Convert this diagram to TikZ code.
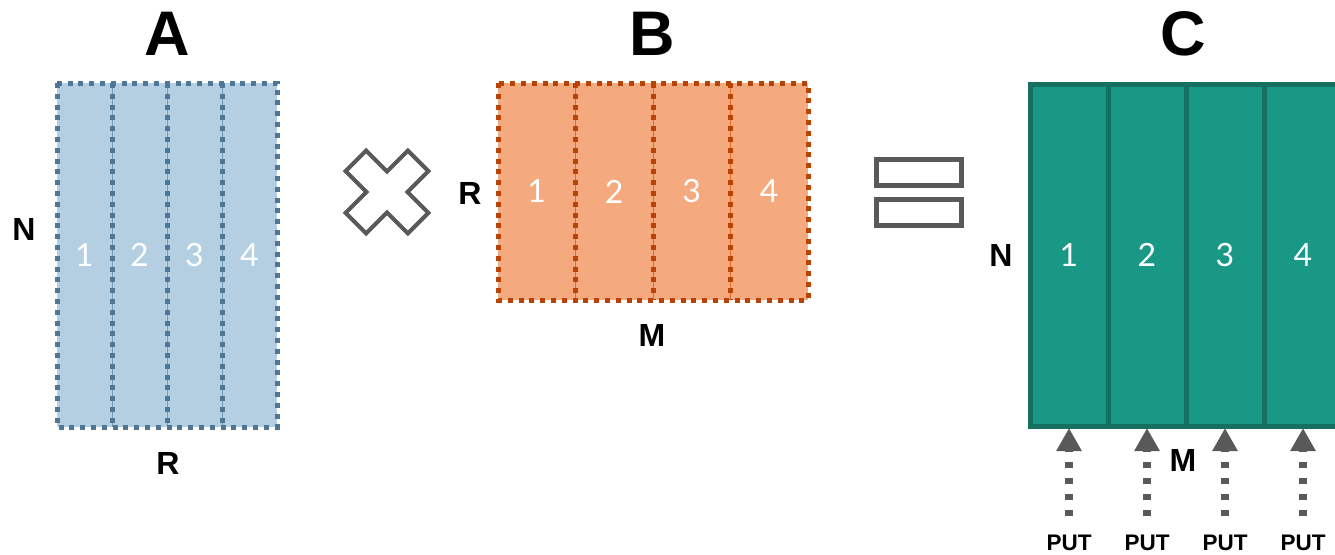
\documentclass[tikz,border=0pt]{standalone}
\usepackage{fontspec}
\setmainfont{Liberation Sans}
\newfontfamily\digitfont{Lato}
\usetikzlibrary{arrows.meta}

\definecolor{afill}{HTML}{B4CFE2}
\definecolor{aline}{HTML}{4E7696}
\definecolor{bfill}{HTML}{F4A97E}
\definecolor{bline}{HTML}{B84305}
\definecolor{bthin}{HTML}{E4692A}
\definecolor{cfill}{HTML}{1A9886}
\definecolor{cline}{HTML}{157060}
\definecolor{opgray}{HTML}{595959}

\begin{document}
\begin{tikzpicture}[x=1pt,y=-1pt,
  cell/.style={inner sep=0pt, outer sep=0pt, text=white,
    font=\digitfont\fontsize{32}{32}\selectfont},
  cellA/.style={cell, fill=afill, minimum width=55pt, minimum height=344pt},
  cellB/.style={cell, fill=bfill, minimum width=77.5pt, minimum height=217pt},
  cellC/.style={cell, fill=cfill, draw=cline, line width=5pt,
    minimum width=78pt, minimum height=342pt},
  dotA/.style={draw=aline, line width=5pt, dash pattern=on 5pt off 5.8pt},
  dotB/.style={draw=bline, line width=5pt, dash pattern=on 5pt off 5.8pt},
  title/.style={font=\bfseries\fontsize{63}{63}\selectfont, anchor=base, inner sep=0pt},
  dimlabel/.style={font=\bfseries\fontsize{32}{32}\selectfont, anchor=base, inner sep=0pt},
  putlabel/.style={font=\bfseries\fontsize{22.5}{22.5}\selectfont, anchor=base, inner sep=0pt},
  putarrow/.style={draw=opgray, line width=8pt, dash pattern=on 6pt off 10pt,
    -{Triangle[width=24pt,length=23pt,fill=opgray]}},
  opsign/.style={draw=opgray, line width=4pt, line join=miter},
]
\useasboundingbox (0,0) rectangle (1335,554);

% ---- matrix A ----
\node[cellA] (a1) at (84.5,255) {1};
\node[cellA] (a2) at (139.5,255) {2};
\node[cellA] (a3) at (194.5,255) {3};
\node[cellA] (a4) at (249.5,255) {4};
\foreach \i in {1,2,3}
  \draw[aline, line width=1pt, opacity=0.6] (a\i.north east) -- (a\i.south east);
\draw[dotA] (a1.north west) rectangle (a4.south east);
\foreach \i in {1,2,3}
  \draw[dotA] (a\i.north east) -- (a\i.south east);
\node[title] (tA) at (167,55) {A};
\node[dimlabel] (nA) at (24,240) {N};
\node[dimlabel] (rA) at (168,474) {R};

% ---- multiplication sign ----
\begin{scope}[shift={(387,192)}]
  \draw[opsign] (-20.85,-41.35) -- (0,-20.5) -- (20.85,-41.35) -- (41.35,-20.85)
    -- (20.5,0) -- (41.35,20.85) -- (20.85,41.35) -- (0,20.5) -- (-20.85,41.35)
    -- (-41.35,20.85) -- (-20.5,0) -- (-41.35,-20.85) -- cycle;
\end{scope}

% ---- matrix B ----
\node[cellB] (b1) at (536.75,191.5) {1};
\node[cellB] (b2) at (614.25,191.5) {2};
\node[cellB] (b3) at (691.75,191.5) {3};
\node[cellB] (b4) at (769.25,191.5) {4};
\foreach \i in {1,2,3}
  \draw[bthin, line width=1pt] (b\i.north east) -- (b\i.south east);
\draw[dotB] (b1.north west) rectangle (b4.south east);
\foreach \i in {1,2,3}
  \draw[dotB] (b\i.north east) -- (b\i.south east);
\node[title] (tB) at (652,55) {B};
\node[dimlabel] (rB) at (470,204.5) {R};
\node[dimlabel] (mB) at (652,346) {M};

% ---- equals sign ----
\draw[opsign, line width=5pt] (876,159) rectangle (961,185);
\draw[opsign, line width=5pt] (876,199) rectangle (961,225);

% ---- matrix C ----
\node[cellC] (c1) at (1069,255) {1};
\node[cellC] (c2) at (1147,255) {2};
\node[cellC] (c3) at (1225,255) {3};
\node[cellC] (c4) at (1303,255) {4};
\node[title] (tC) at (1183,55) {C};
\node[dimlabel] (nC) at (1001,266.5) {N};
\node[dimlabel] (mC) at (1183,471) {M};

% ---- PUT writes into the columns of C ----
\foreach \i/\x in {1/1069,2/1147,3/1225,4/1303} {
  \node[putlabel] (put\i) at (\x,550) {PUT};
  \draw[putarrow] ([yshift=18pt]put\i.north) -- ([yshift=-2pt]c\i.south);
}
\end{tikzpicture}
\end{document}
